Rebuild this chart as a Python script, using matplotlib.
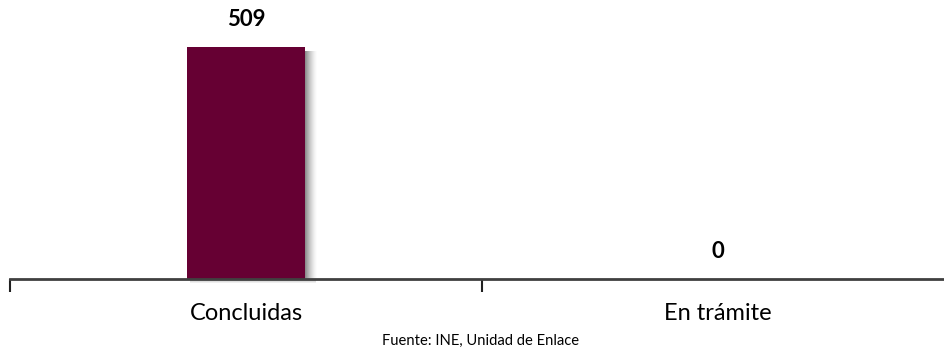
import matplotlib
matplotlib.use("Agg")
import matplotlib.pyplot as plt
from matplotlib.patches import Rectangle
import numpy as np

categories = ["Concluidas", "En trámite"]
values = [509, 0]
source_text = "Fuente: INE, Unidad de Enlace"

bar_color = "#660033"
plt.rcParams["font.family"] = ["Lato", "DejaVu Sans"]

fig = plt.figure(figsize=(9.44, 3.54), dpi=100)
ax = fig.add_axes([10 / 944, 1 - 279 / 354, (944 - 10) / 944, 279 / 354])

x = np.arange(len(categories))
width = 0.25
ax.set_xlim(-0.5, -0.5 + (944 - 10) / 472)
ax.set_ylim(0, 611)

# soft drop shadow to the right of each bar
px_x = 1 / 472.0
px_y = 611 / 279.0
for xi, v in zip(x, values):
    if v <= 0:
        continue
    right = xi + width / 2
    n = 12
    for k in range(n):
        a = 0.45 * (1 - k / n) ** 1.5
        ax.add_patch(Rectangle((right + k * px_x, 0), px_x, v - 4 * px_y,
                               facecolor="black", alpha=a, linewidth=0,
                               zorder=1))
    # faint shadow just under the baseline
    for k in range(4):
        ax.add_patch(Rectangle((xi - width / 2 + 3 * px_x, -(k + 1) * px_y),
                               width + 8 * px_x, px_y, facecolor="black",
                               alpha=0.25 * (1 - k / 4), linewidth=0,
                               zorder=1, clip_on=False))

ax.bar(x, values, width=width, color=bar_color, zorder=2)

for xi, v in zip(x, values):
    ax.annotate(f"{v}", xy=(xi, v), xytext=(0, 27), textcoords="offset pixels",
                ha="center", va="center", fontsize=16, fontweight="bold",
                color="black")

for s in ["top", "right", "left"]:
    ax.spines[s].set_visible(False)
ax.spines["bottom"].set_color("#404040")
ax.spines["bottom"].set_linewidth(2)
ax.spines["bottom"].set_zorder(3)
ax.set_yticks([])
ax.set_xticks([-0.5, 0.5])
ax.set_xticklabels([])
ax.tick_params(axis="x", length=9, width=1.5, color="#202020")

for xi, c in zip(x, categories):
    ax.annotate(c, xy=(xi, 0), xytext=(0, -34), textcoords="offset pixels",
                ha="center", va="center", fontsize=17, color="black",
                annotation_clip=False)

fig.text(481 / 944, 1 - 341 / 354, source_text, ha="center", va="center",
         fontsize=10.6)

fig.savefig("out.png", dpi=100)
